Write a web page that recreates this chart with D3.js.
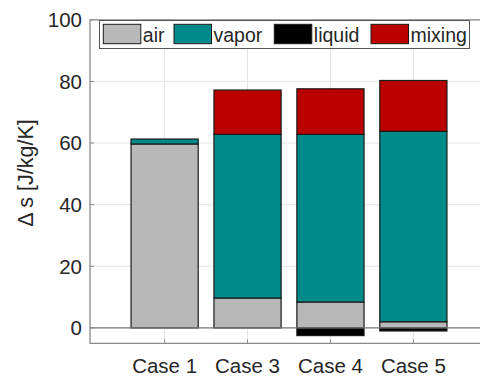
<!DOCTYPE html>
<html>
<head>
<meta charset="utf-8">
<script src="https://cdn.jsdelivr.net/npm/d3@7"></script>
<style>
  html, body { margin: 0; padding: 0; background: #fff; }
  svg { display: block; }
  text { font-family: "Liberation Sans", Arial, Helvetica, sans-serif; fill: #262626; }
</style>
</head>
<body>
<svg id="chart" width="480" height="376"></svg>
<script>
const categories = ["Case 1", "Case 3", "Case 4", "Case 5"];
const seriesNames = ["air", "vapor", "liquid", "mixing"];
const airValues = [59.7, 9.7, 8.4, 2.0];
const vaporValues = [1.6, 53.1, 54.4, 61.8];
const liquidValues = [0, 0, -2.5, -1.0];
const mixingValues = [0, 14.4, 14.8, 16.5];
const yTicks = [0, 20, 40, 60, 80, 100];
const seriesColors = ["#b8b8b8", "#008b8a", "#000000", "#bb0000"];
const yLabel = "\u0394 s [J/kg/K]";

const seriesValues = [airValues, vaporValues, liquidValues, mixingValues];

const svg = d3.select("#chart");
const pLeft = 90, pRight = 488, pTop = 19.8, pBottom = 343.3;

const x = d3.scaleLinear().domain([0.1, 4.9]).range([pLeft, pRight]);
const y = d3.scaleLinear().domain([-5, 100]).range([pBottom, pTop]);
const barW = 0.81;

// grid
const g = svg.append("g");
g.selectAll(".hgrid").data(yTicks).enter().append("line")
  .attr("x1", pLeft).attr("x2", pRight)
  .attr("y1", d => y(d)).attr("y2", d => y(d))
  .attr("stroke", "#e3e3e3").attr("stroke-width", 1);
g.selectAll(".vgrid").data(categories).enter().append("line")
  .attr("x1", (d, i) => x(i + 1)).attr("x2", (d, i) => x(i + 1))
  .attr("y1", pTop).attr("y2", pBottom)
  .attr("stroke", "#e3e3e3").attr("stroke-width", 1);

// stacked bars (positive stack up, negative stack down)
const rects = [];
categories.forEach((c, i) => {
  let pos = 0, neg = 0;
  seriesValues.forEach((vals, s) => {
    const v = vals[i];
    if (v === 0) return;
    let y0, y1;
    if (v > 0) { y0 = pos; y1 = pos + v; pos = y1; }
    else { y0 = neg + v; y1 = neg; neg = y0; }
    rects.push({ i, s, y0, y1 });
  });
});
svg.append("g").selectAll("rect").data(rects).enter().append("rect")
  .attr("x", d => x(d.i + 1 - barW / 2))
  .attr("width", d => x(d.i + 1 + barW / 2) - x(d.i + 1 - barW / 2))
  .attr("y", d => y(d.y1))
  .attr("height", d => y(d.y0) - y(d.y1))
  .attr("fill", d => seriesColors[d.s])
  .attr("stroke", "#1a1a1a").attr("stroke-width", 1.2);

// baseline at 0
svg.append("line")
  .attr("x1", pLeft).attr("x2", pRight)
  .attr("y1", y(0)).attr("y2", y(0))
  .attr("stroke", "#7a7a7a").attr("stroke-width", 1.2);

// axes box
svg.append("path")
  .attr("d", `M${pRight},${pTop}H${pLeft}V${pBottom}H${pRight}`)
  .attr("fill", "none").attr("stroke", "#8a8a8a").attr("stroke-width", 1.3);

// y ticks (inward)
svg.append("g").selectAll("line").data(yTicks).enter().append("line")
  .attr("x1", pLeft).attr("x2", pLeft + 4)
  .attr("y1", d => y(d)).attr("y2", d => y(d))
  .attr("stroke", "#8a8a8a");
svg.append("g").selectAll("text").data(yTicks).enter().append("text")
  .attr("x", pLeft - 8).attr("y", d => y(d)).attr("dy", "0.36em")
  .attr("text-anchor", "end").attr("font-size", 20.5)
  .text(d => d);

// x ticks (inward)
svg.append("g").selectAll("line").data(categories).enter().append("line")
  .attr("x1", (d, i) => x(i + 1)).attr("x2", (d, i) => x(i + 1))
  .attr("y1", pBottom).attr("y2", pBottom - 4)
  .attr("stroke", "#8a8a8a");
svg.append("g").selectAll("text").data(categories).enter().append("text")
  .attr("x", (d, i) => x(i + 1)).attr("y", 372.5)
  .attr("text-anchor", "middle").attr("font-size", 20.5)
  .text(d => d);

// y label
svg.append("text")
  .attr("transform", `translate(33,173) rotate(-90)`)
  .attr("text-anchor", "middle").attr("font-size", 21.5)
  .text(yLabel);

// legend
const lg = svg.append("g");
lg.append("rect").attr("x", 99.5).attr("y", 20.5).attr("width", 370).attr("height", 28)
  .attr("fill", "#fff").attr("stroke", "#555").attr("stroke-width", 1);
const legendX = [103.3, 174, 274.3, 371];
seriesNames.forEach((n, s) => {
  lg.append("rect").attr("x", legendX[s]).attr("y", 24.3).attr("width", 37.5).attr("height", 19.4)
    .attr("fill", seriesColors[s]).attr("stroke", "#1a1a1a").attr("stroke-width", 1);
  lg.append("text").attr("x", legendX[s] + 39.5).attr("y", 42)
    .attr("font-size", 19.5).text(n);
});
</script>
</body>
</html>
